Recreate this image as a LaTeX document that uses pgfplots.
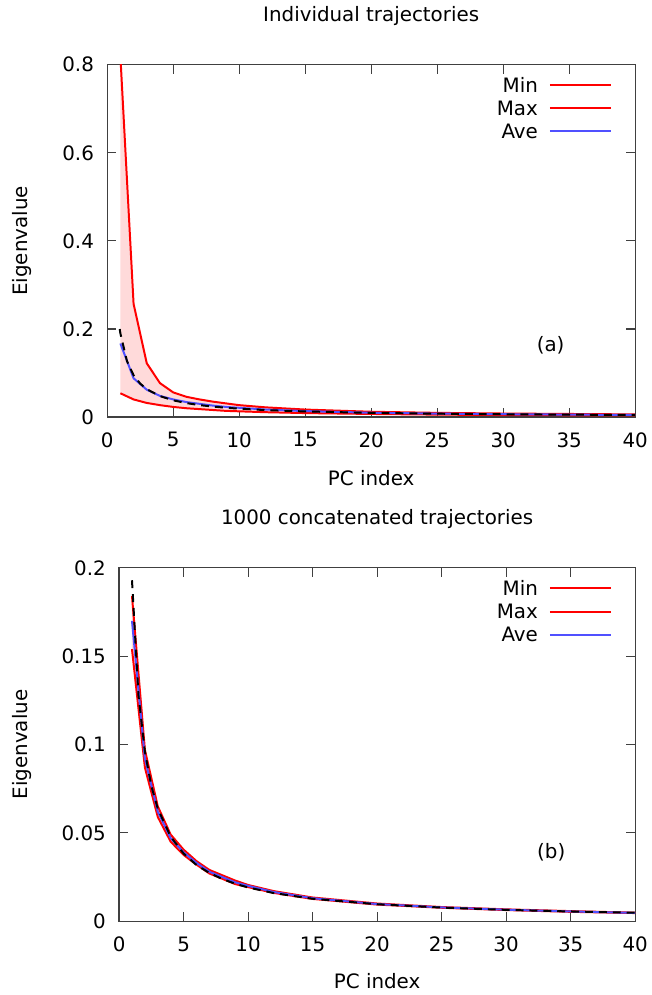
\documentclass[border=0pt]{standalone}
\usepackage{fontspec}
\setmainfont{DejaVu Sans}
\setsansfont{DejaVu Sans}
\usepackage{pgfplots}
\pgfplotsset{compat=1.18}
\usepgfplotslibrary{fillbetween}
\definecolor{gpred}{RGB}{255,0,0}
\definecolor{gpblue}{RGB}{80,80,255}
\definecolor{gpfill}{RGB}{255,218,218}

\pgfplotsset{
 gp/.style={
  scale only axis,
  font=\fontsize{10}{12}\selectfont,
  /pgf/number format/assume math mode=true,
  axis line style={black!75, line width=0.6pt},
  tick style={black!75, line width=0.6pt},
  tick align=inside,
  major tick length=4.5pt,
  xmin=0, xmax=40,
  xtick={0,5,...,40},
  ymin=0,
  xlabel={PC index},
  ylabel={Eigenvalue},
  xticklabel style={anchor=center, inner sep=0pt, yshift=-11.5pt},
  yticklabel style={anchor=east, inner sep=0pt, xshift=-6.5pt},
  title style={anchor=center},
  legend style={at={(axis description cs:1,1)}, anchor=north east, xshift=-11.5pt, yshift=-5.3pt,
     draw=none, fill=none, inner sep=0pt, outer sep=0pt, column sep=4.5pt, row sep=0.8pt,
     nodes={inner sep=1pt, font=\fontsize{10}{12}\selectfont}},
  legend cell align=right,
  legend plot pos=right,
  legend image code/.code={\draw[##1] (0pt,0.6pt) -- (31pt,0.6pt);},
 },
 redline/.style={draw=gpred, line width=1pt, solid},
 blueline/.style={draw=gpblue, line width=1pt, solid},
 fitline/.style={draw=black, line width=1pt, dash pattern=on 4pt off 3pt},
}

\begin{document}
\begin{tikzpicture}
\path (0,0) rectangle (328pt,-497.5pt);

% ---------- (a) ----------
\begin{axis}[gp,
  at={(54pt,-208.5pt)}, anchor=south west,
  width=266pt, height=177.5pt,
  ymax=0.8,
  ytick={0,0.2,0.4,0.6,0.8},
  yticklabels={0,0.2,0.4,0.6,0.8},
  title={Individual trajectories},
  title style={at={(axis description cs:0.5,1.104)}},
  xlabel style={at={(axis description cs:0.5,-0.172)}, anchor=center},
  ylabel style={at={(axis description cs:-0.162,0.5)}, anchor=center},
]
\addplot[draw=none, name path=minA, forget plot] coordinates {
(1,0.054) (2,0.040) (3,0.032) (4,0.027) (5,0.023) (6,0.020) (7,0.018) (8,0.016) (9,0.014) (10,0.013)
(12,0.011) (15,0.009) (20,0.007) (25,0.0055) (30,0.0045) (35,0.004) (40,0.0035)};
\addplot[draw=none, name path=maxA, forget plot] coordinates {
(1,0.82) (2,0.257) (3,0.122) (4,0.077) (5,0.056) (6,0.046) (7,0.040) (8,0.035) (9,0.031) (10,0.027)
(12,0.022) (15,0.017) (20,0.012) (25,0.0095) (30,0.008) (35,0.007) (40,0.006)};
\addplot[fill=gpfill, draw=none, forget plot] fill between[of=maxA and minA];
\addplot[redline] coordinates {
(1,0.054) (2,0.040) (3,0.032) (4,0.027) (5,0.023) (6,0.020) (7,0.018) (8,0.016) (9,0.014) (10,0.013)
(12,0.011) (15,0.009) (20,0.007) (25,0.0055) (30,0.0045) (35,0.004) (40,0.0035)};
\addlegendentry{Min}
\addplot[redline] coordinates {
(1,0.82) (2,0.257) (3,0.122) (4,0.077) (5,0.056) (6,0.046) (7,0.040) (8,0.035) (9,0.031) (10,0.027)
(12,0.022) (15,0.017) (20,0.012) (25,0.0095) (30,0.008) (35,0.007) (40,0.006)};
\addlegendentry{Max}
\addplot[blueline] coordinates {
(1,0.167) (2,0.088) (3,0.062) (4,0.048) (5,0.040) (6,0.034) (7,0.030) (8,0.026) (9,0.023) (10,0.021)
(12,0.017) (15,0.0135) (20,0.0098) (25,0.0078) (30,0.0065) (35,0.0055) (40,0.0047)};
\addlegendentry{Ave}
\addplot[fitline, forget plot] coordinates {
(0.95,0.200) (1,0.190) (1.5,0.127) (2,0.095) (2.5,0.076) (3,0.0633) (4,0.0475) (5,0.038) (6,0.0317)
(7,0.0271) (8,0.0238) (9,0.0211) (10,0.019) (12,0.0158) (15,0.0127) (20,0.0095) (25,0.0076)
(30,0.0063) (35,0.0054) (40,0.00475)};
\node[font=\fontsize{10}{12}\selectfont] at (axis cs:33.6,0.162) {(a)};
\end{axis}

% ---------- (b) ----------
\begin{axis}[gp,
  at={(60pt,-462.5pt)}, anchor=south west,
  width=260pt, height=178pt,
  ymax=0.2,
  ytick={0,0.05,0.1,0.15,0.2},
  yticklabels={0,0.05,0.1,0.15,0.2},
  title={1000 concatenated trajectories},
  title style={at={(axis description cs:0.5,1.104)}},
  xlabel style={at={(axis description cs:0.5,-0.1685)}, anchor=center},
  ylabel style={at={(axis description cs:-0.1885,0.5)}, anchor=center},
]
\addplot[draw=none, name path=minB, forget plot] coordinates {
(1,0.154) (2,0.087) (3,0.059) (4,0.045) (5,0.0375) (6,0.032) (7,0.027) (8,0.024) (9,0.021) (10,0.0193)
(12,0.016) (15,0.0126) (20,0.0094) (25,0.0076) (30,0.0063) (35,0.0053) (40,0.0046)};
\addplot[draw=none, name path=maxB, forget plot] coordinates {
(1,0.184) (2,0.097) (3,0.065) (4,0.049) (5,0.0405) (6,0.034) (7,0.029) (8,0.026) (9,0.023) (10,0.0205)
(12,0.017) (15,0.0134) (20,0.0100) (25,0.0080) (30,0.0067) (35,0.0057) (40,0.0048)};
\addplot[fill=gpfill, draw=none, forget plot] fill between[of=maxB and minB];
\addplot[redline] coordinates {
(1,0.154) (2,0.087) (3,0.059) (4,0.045) (5,0.0375) (6,0.032) (7,0.027) (8,0.024) (9,0.021) (10,0.0193)
(12,0.016) (15,0.0126) (20,0.0094) (25,0.0076) (30,0.0063) (35,0.0053) (40,0.0046)};
\addlegendentry{Min}
\addplot[redline] coordinates {
(1,0.184) (2,0.097) (3,0.065) (4,0.049) (5,0.0405) (6,0.034) (7,0.029) (8,0.026) (9,0.023) (10,0.0205)
(12,0.017) (15,0.0134) (20,0.0100) (25,0.0080) (30,0.0067) (35,0.0057) (40,0.0048)};
\addlegendentry{Max}
\addplot[blueline] coordinates {
(1,0.170) (2,0.092) (3,0.062) (4,0.047) (5,0.039) (6,0.033) (7,0.028) (8,0.025) (9,0.022) (10,0.020)
(12,0.0165) (15,0.013) (20,0.0097) (25,0.0078) (30,0.0065) (35,0.0055) (40,0.0047)};
\addlegendentry{Ave}
\addplot[fitline, forget plot] coordinates {
(1,0.193) (1.5,0.128) (2,0.096) (2.5,0.0765) (3,0.0637) (4,0.0478) (5,0.0383) (6,0.0318)
(7,0.0273) (8,0.0239) (9,0.0212) (10,0.0191) (12,0.0159) (15,0.0127) (20,0.0096) (25,0.0077)
(30,0.0064) (35,0.0055) (40,0.0048)};
\node[font=\fontsize{10}{12}\selectfont] at (axis cs:33.5,0.039) {(b)};
\end{axis}
\end{tikzpicture}
\end{document}
